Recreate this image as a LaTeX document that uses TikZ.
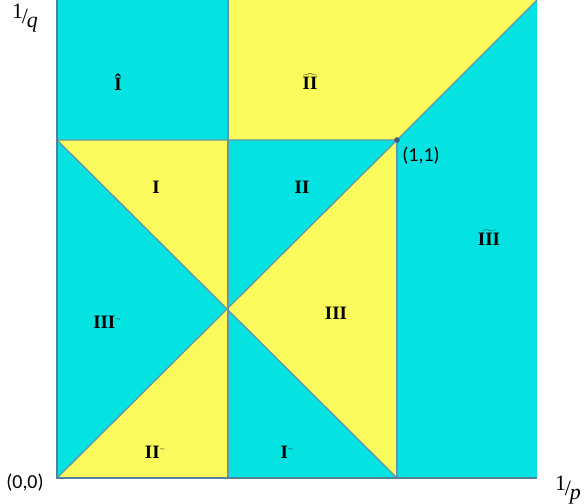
\documentclass[tikz,border=0pt]{standalone}
\usepackage{fontspec}
\setmainfont{Liberation Serif}
\newfontfamily\labfont{Carlito}
\definecolor{cyanc}{RGB}{5,226,226}
\definecolor{yelc}{RGB}{250,250,92}
\definecolor{edgec}{RGB}{100,150,165}
\definecolor{axisc}{RGB}{80,130,160}
\definecolor{dotc}{RGB}{60,90,140}
\begin{document}
\begin{tikzpicture}[x=1bp,y=-1bp,
  cyanfill/.style={fill=cyanc},
  yelfill/.style={fill=yelc},
  edge/.style={draw=edgec,line width=1.3bp},
  axis/.style={draw=axisc,line width=1.5bp},
  reg/.style={font=\fontsize{19}{22}\selectfont\bfseries,inner sep=1bp},
  coordlab/.style={font=\labfont\fontsize{20}{23}\selectfont}]
\useasboundingbox (0,0) rectangle (588,504);
% vertices
\coordinate (TL) at (57,0);
\coordinate (TM) at (228,0);
\coordinate (TR) at (537,0);
\coordinate (ML) at (57,140);
\coordinate (MM) at (228,140);
\coordinate (P11) at (397,140);
\coordinate (C) at (227,309);
\coordinate (BL) at (57,478);
\coordinate (BM) at (228,478);
\coordinate (BR) at (397,478);
\coordinate (BRR) at (537,478);
% fills
\fill[cyanfill] (TL) -- (TM) -- (MM) -- (ML) -- cycle;
\fill[yelfill] (TM) -- (TR) -- (P11) -- (MM) -- cycle;
\fill[cyanfill] (TR) -- (BRR) -- (BR) -- (P11) -- cycle;
\fill[yelfill] (ML) -- (MM) -- (C) -- cycle;
\fill[cyanfill] (ML) -- (C) -- (BL) -- cycle;
\fill[yelfill] (BL) -- (C) -- (BM) -- cycle;
\fill[cyanfill] (MM) -- (P11) -- (C) -- cycle;
\fill[yelfill] (C) -- (P11) -- (BR) -- cycle;
\fill[cyanfill] (C) -- (BR) -- (BM) -- cycle;
% edges
\draw[edge] (ML) -- (P11) -- (TR);
\draw[edge] (MM) -- (TM);
\draw[edge] (MM) -- (BM);
\draw[edge] (P11) -- (BR);
\draw[edge] (ML) -- (BR);
\draw[edge] (BL) -- (P11);
\draw[axis] (TL) -- (BL) -- (BRR);
\fill[dotc] (P11) circle (2.8bp);
% region labels
\node[reg] (l1) at (118,82) {\^{I}};
\node[reg] (l2) at (310,82) {$\widehat{\mathbf{II}}$};
\node[reg] (l3) at (156,187) {I};
\node[reg] (l4) at (302,187) {II};
\node[reg] (l5) at (489,238) {$\widetilde{\mathbf{III}}$};
\node[reg] (l6) at (107,322) {III\raisebox{0.9ex}{\tiny$\sim$}};
\node[reg] (l7) at (336,313) {III};
\node[reg] (l8) at (155,452) {II\raisebox{0.9ex}{\tiny$\sim$}};
\node[reg] (l9) at (287,452) {I\raisebox{0.9ex}{\tiny$\sim$}};
% axis / point labels
\node[coordlab] (p11) at (421,156) {(1,1)};
\node[coordlab] (p00) at (25,483) {(0,0)};
\node[font=\fontsize{22}{24}\selectfont] (q) at (25,18) {\raisebox{0.5ex}{1}\kern-0.05em/\kern-0.05em\raisebox{-0.35ex}{\itshape q}};
\node[font=\fontsize{22}{24}\selectfont] (p) at (568,490) {\raisebox{0.5ex}{1}\kern-0.05em/\kern-0.05em\raisebox{-0.35ex}{\itshape p}};
\end{tikzpicture}
\end{document}
